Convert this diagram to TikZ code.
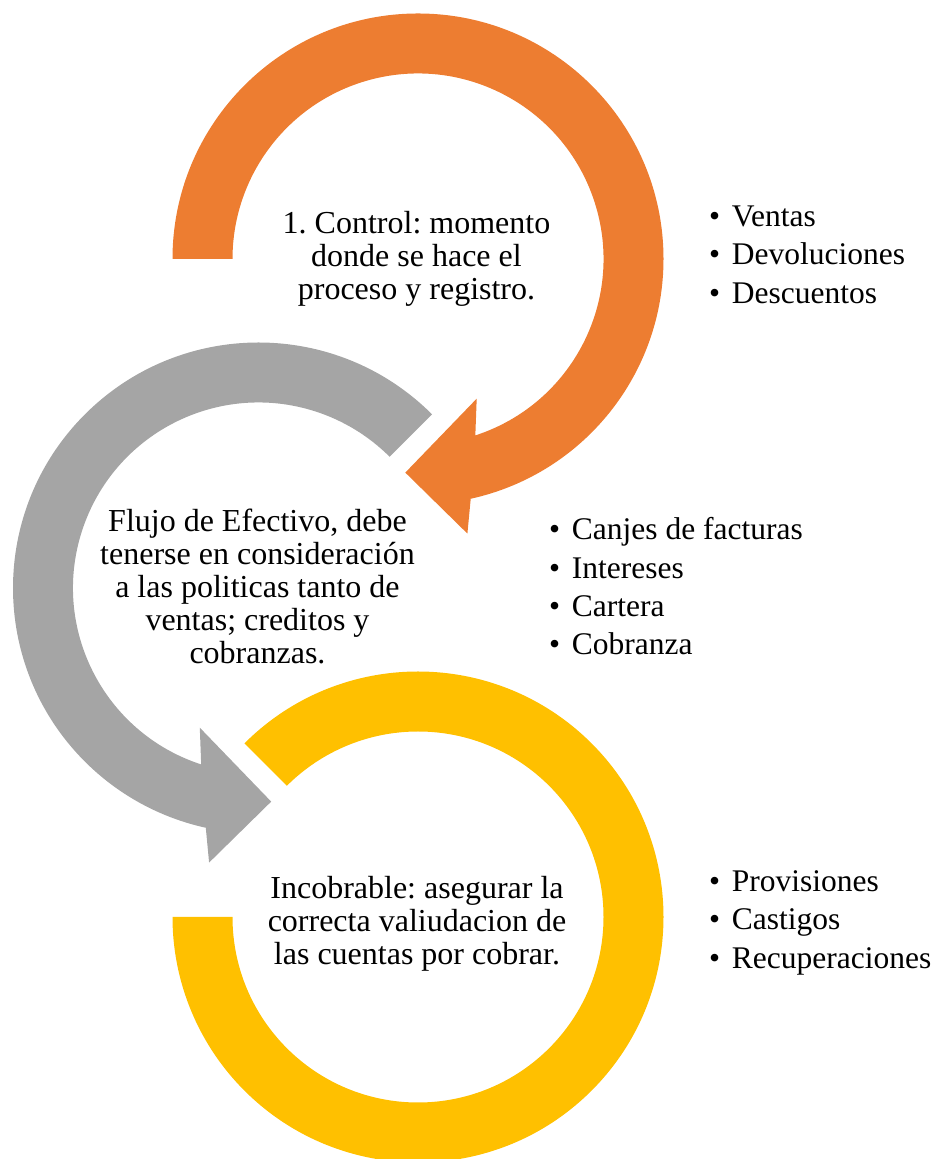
\documentclass[tikz,border=0pt]{standalone}
\usepackage{fontspec}
\setmainfont{Liberation Serif}
\frenchspacing
\definecolor{ringorange}{HTML}{ED7D31}
\definecolor{ringgray}{HTML}{A5A5A5}
\definecolor{ringyellow}{HTML}{FFC000}
\newcommand{\ringR}{245.5}
\newcommand{\ringr}{185.5}
\tikzset{
  ringtext/.style={align=center,inner sep=0pt,font=\fontsize{32}{33}\selectfont},
  listitem/.style={anchor=base west,inner sep=0pt,font=\fontsize{31.5}{38.5}\selectfont},
}
\begin{document}
\begin{tikzpicture}
  [x=1pt,y=1pt]
  \useasboundingbox (0,0) rectangle (937,1159);
  \coordinate (ctr1) at (418,900);
  \coordinate (ctr2) at (258.5,571);
  \coordinate (ctr3) at (418,242);

  % orange ring, arrow to the lower left
  \fill[ringorange] ([shift={(180:\ringR pt)}]ctr1)
    arc[start angle=180,end angle=-77.6,radius=\ringR pt]
    -- ([shift={(-79.8:279pt)}]ctr1)
    -- ([shift={(-93.4:214pt)}]ctr1)
    -- ([shift={(-67.2:151.5pt)}]ctr1)
    -- ([shift={(-72:\ringr pt)}]ctr1)
    arc[start angle=-72,end angle=180,radius=\ringr pt] -- cycle;

  % gray ring, arrow to the lower right
  \fill[ringgray] ([shift={(45:\ringR pt)}]ctr2)
    arc[start angle=45,end angle=257.6,radius=\ringR pt]
    -- ([shift={(259.8:279pt)}]ctr2)
    -- ([shift={(273.4:214pt)}]ctr2)
    -- ([shift={(247.2:151.5pt)}]ctr2)
    -- ([shift={(252:\ringr pt)}]ctr2)
    arc[start angle=252,end angle=45,radius=\ringr pt] -- cycle;

  % yellow ring, no arrow
  \fill[ringyellow] ([shift={(135:\ringR pt)}]ctr3)
    arc[start angle=135,end angle=-180,radius=\ringR pt]
    -- ([shift={(-180:\ringr pt)}]ctr3)
    arc[start angle=-180,end angle=135,radius=\ringr pt] -- cycle;

  \node[ringtext] (control) at (416.5,900.1)
    {1. Control: momento\\donde se hace el\\proceso y registro.};
  \node[ringtext] (flujo) at (257.5,572.1)
    {Flujo de Efectivo, debe\\tenerse en consideración\\a las politicas tanto de\\ventas; creditos y\\cobranzas.};
  \node[ringtext] (incobrable) at (417,235.4)
    {Incobrable: asegurar la\\correcta valiudacion de\\las cuentas por cobrar.};

  \foreach \entry [count=\i] in {Ventas,Devoluciones,Descuentos}
    \node[listitem] (ctl\i) at (731.7,971.5-38.6*\i)
      {\llap{\textbullet\hspace{11.7pt}}\entry};
  \foreach \entry [count=\i] in {Canjes de facturas,Intereses,Cartera,Cobranza}
    \node[listitem] (flj\i) at (571.7,657.3-38.3*\i)
      {\llap{\textbullet\hspace{11.7pt}}\entry};
  \foreach \entry [count=\i] in {Provisiones,Castigos,Recuperaciones}
    \node[listitem] (inc\i) at (731.7,305.6-38.3*\i)
      {\llap{\textbullet\hspace{11.7pt}}\entry};
\end{tikzpicture}
\end{document}
